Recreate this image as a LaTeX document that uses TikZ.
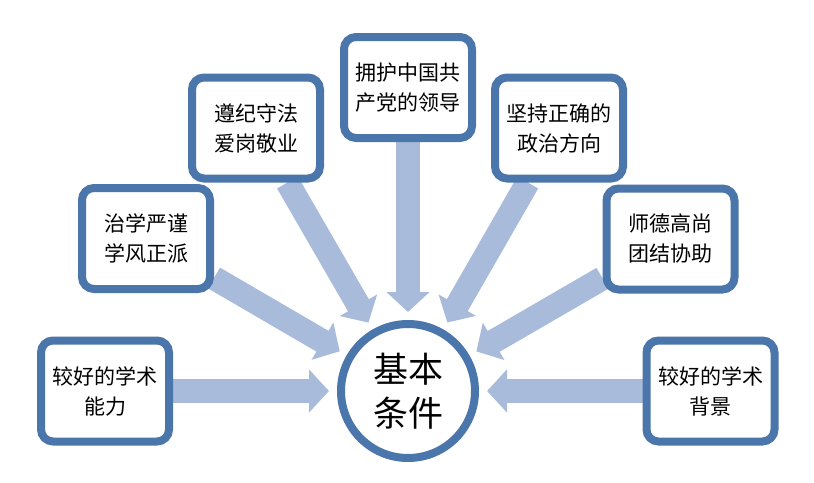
\documentclass[tikz,border=0pt]{standalone}
\usepackage{fontspec}
\newfontfamily\cjk{Noto Sans CJK SC}
\usetikzlibrary{arrows.meta,backgrounds}
\definecolor{bordc}{HTML}{4A76AC}
\definecolor{arrc}{HTML}{A8BBDA}
\tikzset{
  box/.style={draw=bordc, line width=8pt, fill=white, rounded corners=12pt,
    minimum width=128pt, minimum height=101pt, inner sep=0pt, align=center,
    font=\cjk\fontsize{21}{30}\selectfont},
  hub/.style={draw=bordc, line width=8pt, fill=white, circle, minimum size=134pt,
    inner sep=0pt, align=center, font=\cjk\fontsize{35}{44}\selectfont},
  bigarrow/.style={draw=arrc, line width=24pt,
    -{Triangle[length=20pt,width=42pt]}, shorten >=8pt}
}
\begin{document}
\begin{tikzpicture}[x=1pt,y=-1pt]
\useasboundingbox (0,0) rectangle (814,482);
\node[hub] (c) at (408,391) {基本\\条件};
\node[box] (b1) at (105,391) {较好的学术\\能力};
\node[box] (b2) at (146,238.5) {治学严谨\\学风正派};
\node[box] (b3) at (256,128) {遵纪守法\\爱岗敬业};
\node[box] (b4) at (408,87.5) {拥护中国共\\产党的领导};
\node[box] (b5) at (559,128) {坚持正确的\\政治方向};
\node[box] (b6) at (670.5,239) {师德高尚\\团结协助};
\node[box] (b7) at (710.5,391) {较好的学术\\背景};
\begin{pgfonlayer}{background}
\fill[white] (0,0) rectangle (814,482);
\foreach \b in {b1,b2,b3,b4,b5,b6,b7}
  \draw[bigarrow] (\b) -- (c);
\end{pgfonlayer}
\end{tikzpicture}
\end{document}
